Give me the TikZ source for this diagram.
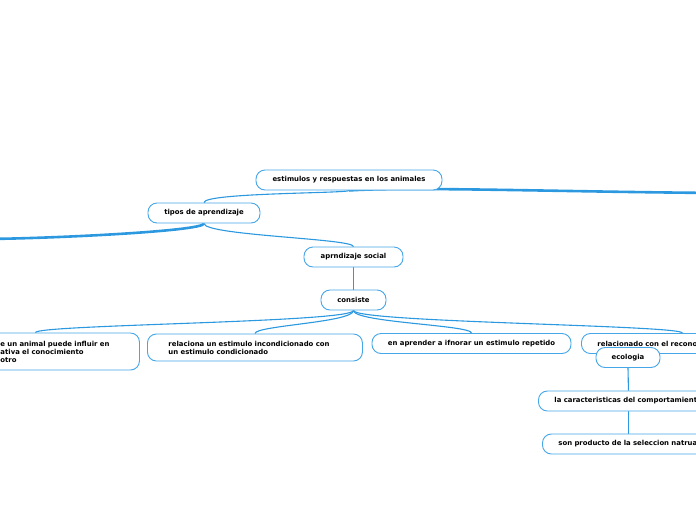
\documentclass[tikz,border=0pt]{standalone}
\usepackage{fontspec}
\setmainfont{DejaVu Sans}
\usetikzlibrary{backgrounds,calc}
\definecolor{bord}{HTML}{45A6E8}
\definecolor{linec}{HTML}{2B98DF}
\begin{document}
\begin{tikzpicture}[x=1pt,y=-1pt,
  box/.style={draw=bord, line width=0.9pt, fill=white, rounded corners=9pt,
    font=\fontsize{6.9}{8}\selectfont\bfseries, inner ysep=0pt, minimum height=20pt, text=black},
  link/.style={draw=linec, line width=1.1pt},
  heavylink/.style={draw=linec, line width=2.6pt}]
\useasboundingbox (0,0) rectangle (696,520);

\node[box, minimum width=186] (root) at (349,180) {estimulos y respuestas en los animales};
\node[box, minimum width=112] (tipos) at (204,213) {tipos de aprendizaje};
\node[box, minimum width=99] (social) at (353.5,257) {aprndizaje social};
\node[box, minimum width=65] (consiste) at (353.5,300) {consiste};
\node[box, anchor=west, text width=123, inner xsep=16, align=left, minimum height=37] (c1) at (-16,351.5) {\mbox{e un animal puede influir en}\\\mbox{ativa el conocimiento}\\otro};
\node[box, anchor=west, text width=173, inner xsep=21, align=left, minimum height=27] (c2) at (147,347.5) {\mbox{relaciona un estimulo incondicionado con}\\\mbox{un estimulo condicionado}};
\node[box, minimum width=199] (c3) at (471.5,343.5) {en aprender a ifnorar un estimulo repetido};
\node[box, anchor=west, text width=170, inner xsep=16, align=left] (c4) at (581,343.5) {\mbox{relacionado con el recono}};
\node[box, minimum width=64] (eco) at (628,357.5) {ecologia};
\node[box, anchor=west, text width=148, inner xsep=16, align=left] (car) at (538,401) {\mbox{la caracteristicas del comportamient}};
\node[box, anchor=west, text width=140, inner xsep=16, align=left] (son) at (542,444) {\mbox{son producto de la seleccion natrua}};

\coordinate (rout) at (720,193);
\coordinate (lout) at (-20,239);

\begin{scope}[on background layer]
\draw[link] (root.south) .. controls +(0,3) and +(0,-10) .. (tipos.north);
\draw[heavylink] (root.south) .. controls +(60,-4) and +(-150,-1) .. (rout);
\draw[heavylink] (tipos.south) .. controls +(0,8) and +(60,0) .. (lout);
\draw[link] (tipos.south) .. controls +(0,12) and +(0,-8) .. (social.north);
\draw[link] (social.south) -- (consiste.north);
\draw[link] (consiste.south) .. controls +(0,12) and +(0,-8) .. ([xshift=-26.5]c1.north);
\draw[link] (consiste.south) .. controls +(0,12) and +(0,-8) .. (c2.north);
\draw[link] (consiste.south) .. controls +(0,12) and +(0,-8) .. (c3.north);
\draw[link] (consiste.south) .. controls +(0,12) and +(0,-8) .. (c4.north);
\draw[link] (eco.south) -- (car.north);
\draw[link] (car.south) -- (son.north);
\end{scope}
\end{tikzpicture}
\end{document}
